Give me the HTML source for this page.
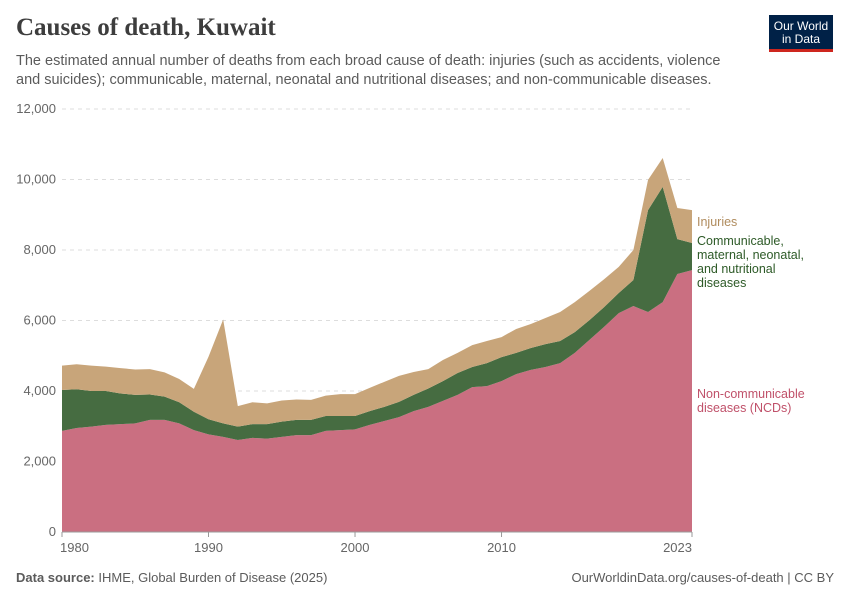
<!DOCTYPE html>
<html><head><meta charset="utf-8"><style>
body{margin:0;background:#fff;font-family:"Liberation Sans",sans-serif;}
#w{position:relative;width:850px;height:600px;overflow:hidden;}
.t{position:absolute;}
</style></head><body><div id="w">
<div class="t" style="left:16px;top:14px;font-family:'Liberation Serif',serif;font-size:25px;font-weight:bold;color:#3d3d3d;">Causes of death, Kuwait</div>
<div class="t" style="left:16px;top:52px;width:720px;font-size:14.5px;line-height:19px;color:#5b5b5b;">The estimated annual number of deaths from each broad cause of death: injuries (such as accidents, violence and suicides); communicable, maternal, neonatal and nutritional diseases; and non-communicable diseases.</div>
<div class="t" style="left:769px;top:15px;width:64px;height:37px;background:#002147;border-bottom:3px solid #ce261e;box-sizing:border-box;color:#fff;font-size:12px;line-height:13px;text-align:center;padding-top:5px;">Our World<br>in Data</div>
<svg class="t" style="left:0;top:0" width="850" height="600" id="svg"></svg>
<div class="t" style="left:16px;top:570px;font-size:13px;color:#5b5b5b;"><b>Data source:</b> IHME, Global Burden of Disease (2025)</div>
<div class="t" style="right:16px;top:570px;font-size:13px;color:#5b5b5b;">OurWorldinData.org/causes-of-death | CC BY</div>
</div>
<script>
const years=[];for(let y=1980;y<=2023;y++)years.push(y);
const ncd=[2870,2950,2990,3040,3060,3080,3180,3180,3080,2890,2770,2700,2610,2670,2650,2700,2750,2750,2870,2890,2910,3040,3150,3260,3430,3550,3720,3890,4110,4140,4280,4480,4600,4680,4790,5080,5450,5820,6210,6410,6240,6520,7320,7430];
const comm=[1160,1100,1010,960,870,810,720,660,600,520,430,380,380,390,410,430,430,430,420,400,380,390,400,430,460,520,560,620,570,650,680,600,620,650,630,590,560,560,570,740,2890,3270,990,770];
const injuries=[690,710,720,690,720,720,720,690,660,650,1770,2950,580,620,590,600,580,570,580,620,620,660,710,740,650,550,600,570,620,630,570,680,680,740,820,850,830,790,740,850,860,820,880,930];
const yTicks=[0,2000,4000,6000,8000,10000,12000];
const xTicks=[1980,1990,2000,2010,2023];
const X0=62,X1=692,Y0=532,Y1=109;
const xs=y=>X0+(y-1980)/(2023-1980)*(X1-X0);
const ys=v=>Y0-v/12000*(Y0-Y1);
const svg=document.getElementById('svg');const NS='http://www.w3.org/2000/svg';
function mk(t,a){const e=document.createElementNS(NS,t);for(const k in a)e.setAttribute(k,a[k]);svg.appendChild(e);return e;}
yTicks.forEach(v=>{
 if(v>0){const g=mk('line',{x1:X0,x2:X1,y1:ys(v),y2:ys(v),stroke:'#ddd','stroke-dasharray':'4,4'});
 
 }
 const t=mk('text',{x:56,y:ys(v)+4,'text-anchor':'end','font-size':13,fill:'#666','font-family':'Liberation Sans'});t.textContent=v.toLocaleString('en-US');
 
 
});
const layers=[ncd,comm,injuries],cols=['#ca6f81','#466c41','#c8a57a'],names=['ncd-area','communicable-area','injuries-area'];
let base=years.map(()=>0);
layers.forEach((L,i)=>{
 const top=base.map((b,j)=>b+L[j]);
 let d='M'+years.map((y,j)=>xs(y)+','+ys(top[j])).join('L');
 for(let j=years.length-1;j>=0;j--)d+='L'+xs(years[j])+','+ys(base[j]);
 const p=mk('path',{d:d+'Z',fill:cols[i]});
 
 
 base=top;
});
mk('line',{x1:X0,x2:X1,y1:Y0,y2:Y0,stroke:'#999'});
xTicks.forEach(y=>{
 mk('line',{x1:xs(y),x2:xs(y),y1:Y0,y2:Y0+5,stroke:'#999'});
 const a=y===1980?'start':(y===2023?'end':'middle');
 const t=mk('text',{x:xs(y)+(y===1980?-2:0),y:Y0+20,'text-anchor':a,'font-size':13,fill:'#666','font-family':'Liberation Sans'});t.textContent=y;
 
 
});
const labs=[['Injuries',226,'#b08c5e','legend-injuries'],['Communicable,',245,'#2d5a27','legend-communicable'],['maternal, neonatal,',259,'#2d5a27','legend-communicable'],['and nutritional',273,'#2d5a27','legend-communicable'],['diseases',287,'#2d5a27','legend-communicable'],['Non-communicable',398,'#c0516a','legend-ncd'],['diseases (NCDs)',412,'#c0516a','legend-ncd']];
labs.forEach(l=>{const t=mk('text',{x:697,y:l[1],'font-size':12.5,fill:l[2],'font-family':'Liberation Sans'});t.textContent=l[0];
 
 });
</script></body></html>
